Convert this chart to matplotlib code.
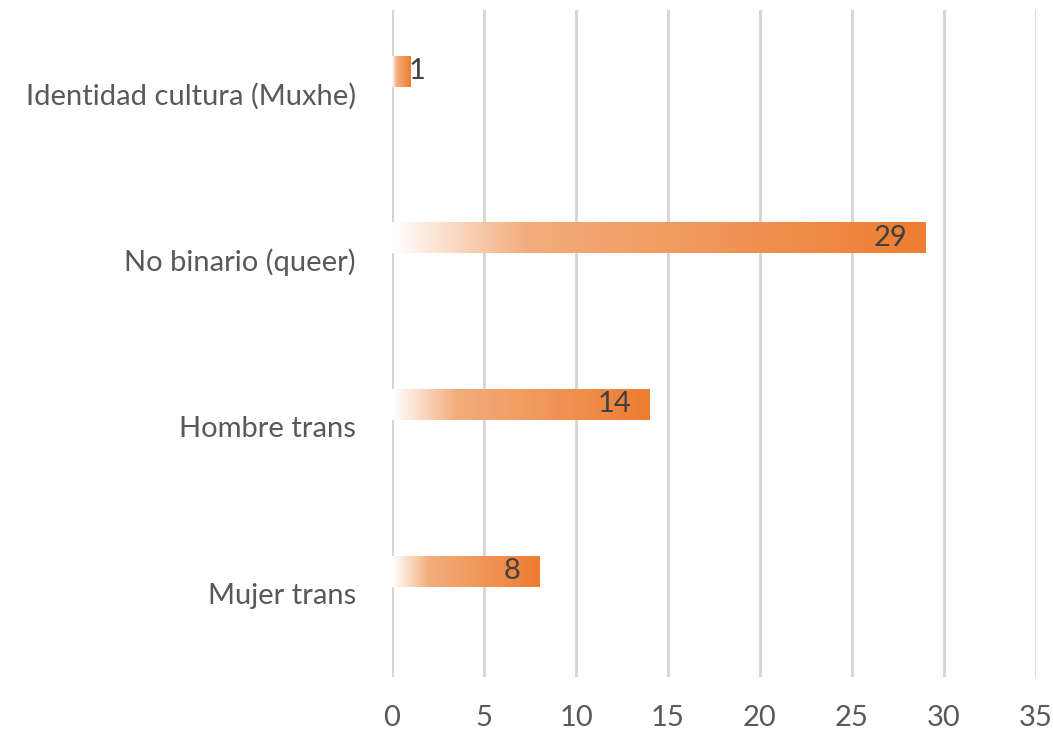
import matplotlib
matplotlib.use("Agg")
import matplotlib.pyplot as plt
import numpy as np
from matplotlib.colors import LinearSegmentedColormap

categories = ["Mujer trans", "Hombre trans", "No binario (queer)", "Identidad cultura (Muxhe)"]
values = [8, 14, 29, 1]
xticks = [0, 5, 10, 15, 20, 25, 30, 35]

plt.rcParams['font.family'] = ['Lato', 'DejaVu Sans']

fig = plt.figure(figsize=(10.53, 7.33), dpi=100)
ax = fig.add_axes([392 / 1053, (733 - 677) / 733, (1036 - 392) / 1053, (677 - 10) / 733])

# white -> light orange -> orange, like the Excel gradient fill
cmap = LinearSegmentedColormap.from_list(
    "grad", [(0.0, "#FFFFFF"), (0.25, "#F3AD7C"), (1.0, "#ED7D31")])
grad = np.linspace(0, 1, 256).reshape(1, -1)

offset = 0.13
height = 0.18
fs = 21
for i, v in enumerate(values):
    y = i + offset
    ax.imshow(grad, cmap=cmap, aspect="auto", interpolation="bilinear",
              extent=[0, v, y - height / 2, y + height / 2], zorder=3)
    if v >= 5:
        ax.text(v - 1.0, y + 0.005, str(v), ha="right", va="center",
                fontsize=fs, color="#404040", zorder=4)
    else:
        ax.text(v - 0.1, y + 0.005, str(v), ha="left", va="center",
                fontsize=fs, color="#404040", zorder=4)

ax.set_xlim(0, 35)
ax.set_ylim(-0.5, len(categories) - 0.5)
ax.set_xticks(xticks)
ax.set_xticklabels([str(t) for t in xticks], fontsize=fs, color="#595959")
ax.set_yticks(np.arange(len(categories)))
ax.set_yticklabels(categories, fontsize=fs, color="#595959")
ax.tick_params(axis="both", length=0)
ax.tick_params(axis="x", pad=20)
ax.tick_params(axis="y", pad=26)
ax.grid(axis="x", color="#D4D4D4", linewidth=2, zorder=0)
for s in ax.spines.values():
    s.set_visible(False)
ax.set_facecolor("none")

plt.savefig("out.png", dpi=100)
